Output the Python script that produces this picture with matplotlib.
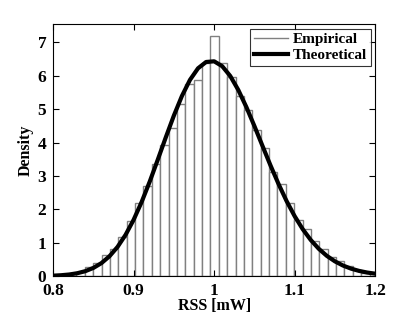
import matplotlib

matplotlib.use("Agg")
import matplotlib.pyplot as plt
from matplotlib.lines import Line2D

# histogram bins (centres, width) and densities
bin_width = 0.0104
bin_centers = [0.8342, 0.8446, 0.8550, 0.8654, 0.8758, 0.8862, 0.8966, 0.9070,
               0.9174, 0.9278, 0.9382, 0.9486, 0.9590, 0.9694, 0.9798, 0.9902,
               1.0006, 1.0110, 1.0214, 1.0318, 1.0422, 1.0526, 1.0630, 1.0734,
               1.0838, 1.0942, 1.1046, 1.1150, 1.1254, 1.1358, 1.1462, 1.1566,
               1.1670, 1.1774, 1.1878]
density = [0.12, 0.26, 0.38, 0.63, 0.80, 1.18, 1.65, 2.20,
           2.70, 3.35, 3.94, 4.45, 5.17, 5.75, 5.87, 6.37,
           7.19, 6.39, 5.97, 5.39, 4.97, 4.37, 3.84, 3.12,
           2.77, 2.20, 1.68, 1.40, 1.06, 0.80, 0.58, 0.46,
           0.30, 0.18, 0.10]

# theoretical curve
rss = [0.80, 0.81, 0.82, 0.83, 0.84, 0.85, 0.86, 0.87, 0.88, 0.89, 0.90,
       0.91, 0.92, 0.93, 0.94, 0.95, 0.96, 0.97, 0.98, 0.99, 1.00,
       1.01, 1.02, 1.03, 1.04, 1.05, 1.06, 1.07, 1.08, 1.09, 1.10,
       1.11, 1.12, 1.13, 1.14, 1.15, 1.16, 1.17, 1.18, 1.19, 1.20]
theory = [0.012, 0.025, 0.047, 0.085, 0.147, 0.244, 0.388, 0.594, 0.873, 1.236, 1.687,
          2.223, 2.831, 3.488, 4.160, 4.810, 5.397, 5.879, 6.226, 6.415, 6.435,
          6.289, 5.995, 5.576, 5.065, 4.496, 3.903, 3.315, 2.758, 2.247, 1.795,
          1.406, 1.081, 0.816, 0.605, 0.441, 0.316, 0.223, 0.155, 0.106, 0.071]

xticks = [0.8, 0.9, 1.0, 1.1, 1.2]
xticklabels = ["0.8", "0.9", "1", "1.1", "1.2"]
yticks = [0, 1, 2, 3, 4, 5, 6, 7]

plt.rcParams["font.family"] = ["Liberation Serif", "DejaVu Serif"]
plt.rcParams["font.weight"] = "bold"

fig = plt.figure(figsize=(4.15, 3.13), dpi=100)
ax = fig.add_axes([0.128, 0.118, 0.776, 0.805])

ax.bar(bin_centers, density, width=bin_width, color="white",
       edgecolor="#808080", linewidth=1.0, zorder=1)
ax.plot(rss, theory, color="black", linewidth=3, zorder=2)

ax.set_xlim(0.8, 1.2)
ax.set_ylim(0, 7.55)
ax.set_xticks(xticks)
ax.set_xticklabels(xticklabels)
ax.set_yticks(yticks)
ax.tick_params(direction="in", top=True, right=True, length=4, width=0.8,
               labelsize=12.5)
ax.tick_params(axis="x", pad=5)
ax.tick_params(axis="y", pad=5)
for lab in ax.get_xticklabels() + ax.get_yticklabels():
    lab.set_fontweight("bold")
for s in ax.spines.values():
    s.set_linewidth(0.8)

ax.set_xlabel("RSS [mW]", fontsize=11.5, fontweight="bold", labelpad=-1)
ax.set_ylabel("Density", fontsize=11.5, fontweight="bold", labelpad=3)

handles = [Line2D([], [], color="#808080", linewidth=1.0),
           Line2D([], [], color="black", linewidth=3)]
leg = ax.legend(handles, ["Empirical", "Theoretical"], loc="upper right",
                frameon=True, fancybox=False, borderpad=0.25,
                handlelength=2.2, handletextpad=0.3, labelspacing=0.15,
                borderaxespad=0.3, prop={"weight": "bold", "size": 11})
leg.get_frame().set_edgecolor("black")
leg.get_frame().set_linewidth(0.8)

fig.savefig("out.png", dpi=100)
